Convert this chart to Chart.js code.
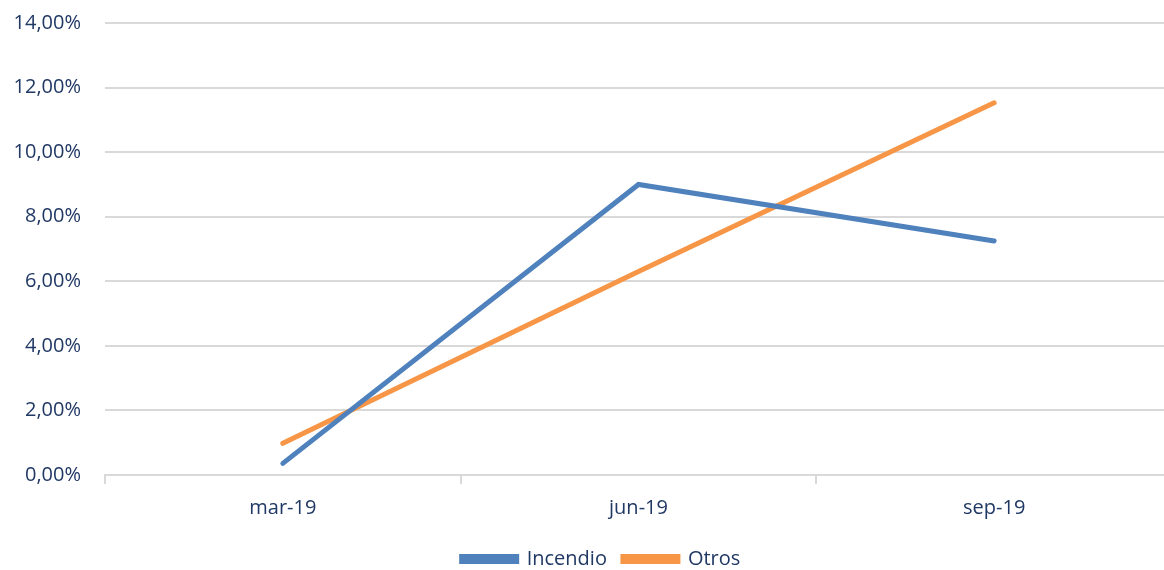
<!DOCTYPE html>
<html><head><meta charset="utf-8">
<script src="https://cdn.jsdelivr.net/npm/chart.js@4.4.0/dist/chart.umd.min.js"></script>
<style>
html,body{margin:0;padding:0;background:#fff;overflow:hidden;}
#wrap{width:1200px;height:570px;position:relative;}
</style></head>
<body><div id="wrap"><canvas id="c"></canvas></div>
<script>
const categories = ['mar-19', 'jun-19', 'sep-19'];
const incendio = [0.36, 9.0, 7.25];
const otros = [0.98, 6.3, 11.53];
const yTicks = [0, 2, 4, 6, 8, 10, 12, 14];

const textColor = '#203864';
const font = {family: '"Open Sans", sans-serif', size: 20};

const shiftLegend = {
  id: 'shiftLegend',
  afterLayout(chart) {
    if (chart.legend) { chart.legend.left += 15; chart.legend.right += 15; }
  }
};

new Chart(document.getElementById('c'), {
  type: 'line',
  data: {
    labels: categories,
    datasets: [
      {label: 'Incendio', data: incendio, borderColor: '#4F81BD', backgroundColor: '#4F81BD', borderWidth: 5, pointRadius: 0, borderCapStyle: 'round', tension: 0},
      {label: 'Otros', data: otros, borderColor: '#F79646', backgroundColor: '#F79646', borderWidth: 5, pointRadius: 0, borderCapStyle: 'round', tension: 0}
    ]
  },
  plugins: [shiftLegend],
  options: {
    responsive: true, maintainAspectRatio: false, animation: false,
    layout: {padding: {left: 0, right: 28, top: 23, bottom: -9}},
    plugins: {
      legend: {position: 'bottom', labels: {color: textColor, font: font, boxWidth: 55, boxHeight: 5, padding: 16}},
      tooltip: {enabled: false}
    },
    scales: {
      x: {
        offset: true,
        afterFit: s => { s.height += 1; },
        grid: {offset: true, drawOnChartArea: false, drawTicks: true, tickLength: 9, color: '#D9D9D9', lineWidth: 2},
        border: {display: true, color: '#D9D9D9', width: 2},
        ticks: {color: textColor, font: font, padding: 12}
      },
      y: {
        min: 0, max: 14,
        afterBuildTicks: s => { s.ticks = yTicks.map(v => ({value: v})); },
        afterFit: s => { s.width = 105; s.paddingTop = 0; s.paddingBottom = 0; },
        grid: {color: '#D9D9D9', lineWidth: 2, drawTicks: false},
        border: {display: false},
        ticks: {color: textColor, font: font, padding: 24, callback: v => v.toFixed(2).replace('.', ',') + '%'}
      }
    }
  }
});
</script></body></html>
